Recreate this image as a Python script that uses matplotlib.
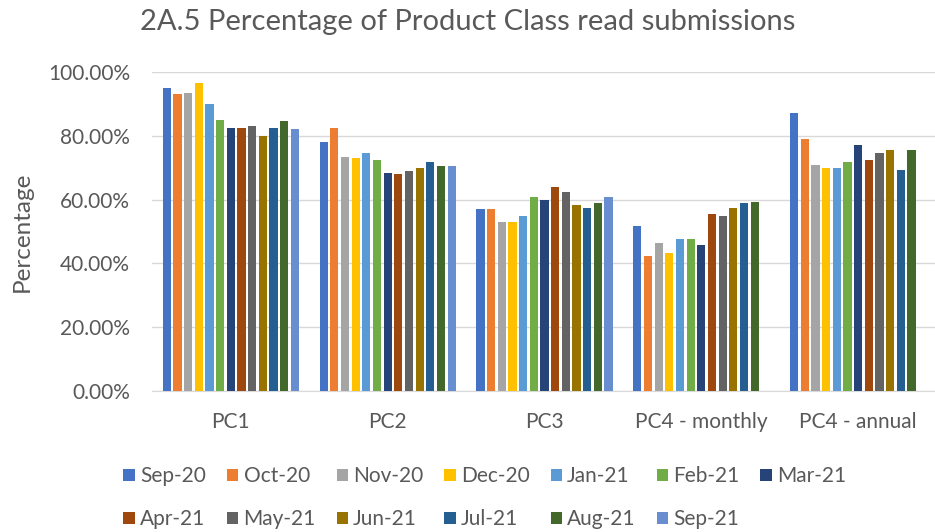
import numpy as np
import matplotlib
matplotlib.use('Agg')
import matplotlib.pyplot as plt
from matplotlib.ticker import PercentFormatter

plt.rcParams['font.family'] = ['Lato', 'DejaVu Sans']

# product classes on the x axis
categories = ['PC1', 'PC2', 'PC3', 'PC4 - monthly', 'PC4 - annual']

# one series per month (percent of read submissions)
months = ['Sep-20', 'Oct-20', 'Nov-20', 'Dec-20', 'Jan-21', 'Feb-21', 'Mar-21',
          'Apr-21', 'May-21', 'Jun-21', 'Jul-21', 'Aug-21', 'Sep-21']

pc1 = [95.1, 93.1, 93.5, 96.5, 90.1, 85.0, 82.5, 82.5, 83.0, 80.0, 82.5, 84.5, 82.0]
pc2 = [78.0, 82.5, 73.4, 72.9, 74.5, 72.5, 68.4, 68.0, 68.9, 70.0, 71.9, 70.5, 70.5]
pc3 = [56.9, 56.9, 52.9, 52.9, 54.9, 60.8, 59.9, 63.9, 62.4, 58.3, 57.4, 58.8, 60.8]
pc4_monthly = [51.8, 42.2, 46.3, 43.2, 47.7, 47.7, 45.8, 55.4, 54.9, 57.4, 58.8, 59.4, np.nan]
pc4_annual = [87.0, 79.0, 70.9, 69.9, 69.9, 71.9, 77.0, 72.5, 74.5, 75.5, 69.4, 75.5, np.nan]

colors = ['#4472C4', '#ED7D31', '#A5A5A5', '#FFC000', '#5B9BD5', '#70AD47', '#264478',
          '#9E480E', '#636363', '#997300', '#255E91', '#43682B', '#698ED0']

# values by month: rows = months, cols = categories
values = np.array([pc1, pc2, pc3, pc4_monthly, pc4_annual]).T

fig = plt.figure(figsize=(9.35, 5.32), dpi=100)
ax = fig.add_axes([0.163, 0.265, 0.837, 0.5997])

x = np.arange(len(categories))
slot = 0.068
for i, m in enumerate(months):
    ax.bar(x + (i - 6) * slot, values[i], width=slot * 0.76, color=colors[i], label=m, zorder=3)

ax.set_ylim(0, 100)
ax.set_xlim(-0.5, 4.49)
ax.set_yticks(np.arange(0, 101, 20))
ax.yaxis.set_major_formatter(PercentFormatter(xmax=100, decimals=2))
ax.set_xticks(x)
ax.set_xticklabels(categories)
ax.grid(axis='y', color='#D9D9D9', linewidth=1, zorder=0)
for s in ['top', 'right', 'left']:
    ax.spines[s].set_visible(False)
ax.spines['bottom'].set_color('#D9D9D9')
ax.tick_params(axis='both', length=0, labelsize=15, colors='#595959')
ax.tick_params(axis='y', pad=16)
ax.tick_params(axis='x', pad=15)
ax.set_ylabel('Percentage', fontsize=17.5, color='#595959', labelpad=11)

fig.suptitle('2A.5 Percentage of Product Class read submissions', fontsize=21,
             color='#595959', y=0.983)

# legend is filled column by column, so interleave to get Excel's row order
handles, labels = ax.get_legend_handles_labels()
order = [0, 7, 1, 8, 2, 9, 3, 10, 4, 11, 5, 12, 6]
fig.legend([handles[k] for k in order], [labels[k] for k in order],
           loc='lower left', bbox_to_anchor=(0.112, -0.03), ncol=7, frameon=False,
           fontsize=15, handlelength=0.55, handleheight=0.55, handletextpad=0.25,
           columnspacing=1.0, labelspacing=1.1, labelcolor='#595959')

fig.savefig('out.png', dpi=100)
